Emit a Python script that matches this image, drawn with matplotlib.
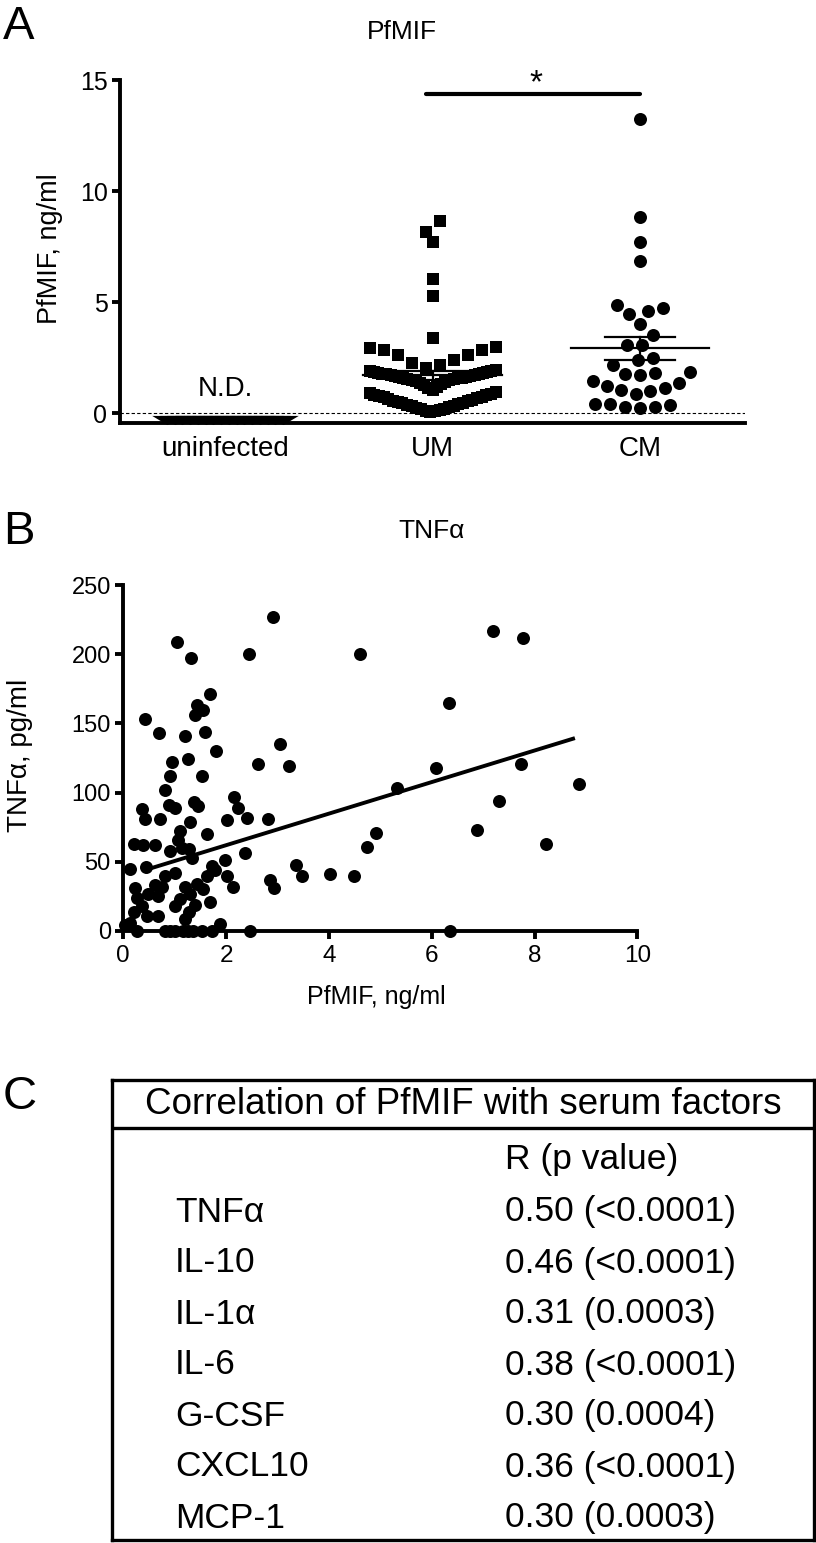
import numpy as np
import matplotlib
matplotlib.use("Agg")
import matplotlib.pyplot as plt

# ---------------- data ----------------
groups = ["uninfected", "UM", "CM"]
uninfected_vals = [-0.3, -0.3, -0.3, -0.3, -0.3, -0.3, -0.3, -0.3,
                   -0.3, -0.3, -0.3, -0.3, -0.3, -0.3, -0.3, -0.3]  # N.D.
um_vals = [8.66, 8.18, 7.73, 6.05, 5.29, 3.38,
           2.98, 2.93, 2.85, 2.82, 2.63, 2.63, 2.37, 2.25, 2.18, 2.03,
           1.46, 1.48, 1.50, 1.52, 1.54, 1.56, 1.58, 1.60, 1.62, 1.64, 1.66, 1.68,
           1.70, 1.72, 1.74, 1.76, 1.78, 1.80, 1.82, 1.84, 1.86, 1.88, 1.90, 1.92,
           1.05, 1.12, 1.18, 1.25, 1.30, 1.36, 1.40,
           0.05, 0.08, 0.11, 0.14, 0.17, 0.20, 0.24, 0.27, 0.30, 0.33, 0.36, 0.40,
           0.43, 0.46, 0.50, 0.53, 0.56, 0.60, 0.63, 0.66, 0.70, 0.73, 0.76, 0.80,
           0.83, 0.86, 0.90, 0.93]
cm_vals = [13.24, 8.83, 7.73, 6.86, 4.73, 4.46, 4.58, 4.88, 4.01, 3.51, 3.08, 3.05,
           2.48, 2.18, 2.40, 1.85, 1.76, 1.73, 1.80, 1.43, 1.20, 1.13, 1.35, 1.05,
           0.86, 1.01, 0.42, 0.26, 0.21, 0.26, 0.35, 0.42]
sig_level = 14.4

pfmif_x = [2.91, 1.05, 1.32, 2.45, 4.60, 7.19, 7.77,
           1.69, 1.43, 1.56, 1.40, 0.42, 6.33,
           0.70, 1.20, 1.58, 3.05, 1.80,
           0.95, 1.25, 2.62, 3.22, 6.09, 7.74,
           1.53, 0.91, 0.81, 5.32, 8.87, 7.30,
           0.88, 1.01, 1.38, 1.46, 2.16, 2.24, 0.36,
           0.42, 0.71, 1.30, 2.01, 2.40, 2.82,
           1.10, 1.62, 4.92, 6.88, 4.74, 8.23,
           0.21, 0.39, 0.62, 1.07, 1.28, 1.14, 0.91, 1.33, 2.37,
           1.98, 3.36, 3.47, 4.03, 4.49,
           0.13, 0.45, 1.72, 1.79, 2.01, 1.62, 0.81, 1.01,
           2.86, 2.94, 2.14, 1.43, 0.62, 0.75, 0.23, 1.20,
           0.26, 0.49, 0.68, 1.30, 1.10, 1.01, 1.56, 1.69, 1.40, 1.27,
           0.36, 0.20, 0.46, 0.68, 1.20, 0.13, 0.03, 1.88,
           0.26, 0.81, 1.01, 1.17, 1.36, 1.53, 1.72, 2.47, 6.36, 0.90, 1.25]
tnf_y = [227, 209, 197, 200, 200, 217, 212,
         171, 163, 160, 156, 153, 165,
         143, 141, 144, 135, 130,
         122, 124, 121, 119, 118, 121,
         112, 112, 102, 103, 106, 94,
         91, 89, 93, 90, 97, 89, 88,
         81, 81, 79, 80, 82, 81,
         72, 70, 71, 73, 61, 63,
         63, 62, 62, 66, 59, 60, 58, 53, 56,
         51, 48, 40, 41, 40,
         45, 46, 47, 44, 40, 40, 40, 42,
         37, 31, 32, 34, 33, 32, 31, 32,
         24, 27, 25, 27, 23, 18, 30, 21, 19, 14,
         18, 14, 11, 11, 9, 6, 4, 5,
         0, 0, 0, 0, 0, 0, 0, 0, 0, 0, 0]
fit_slope = 11.4
fit_intercept = 39.2
fit_x_range = [0.5, 8.75]

table_title = "Correlation of PfMIF with serum factors"
table_header = "R (p value)"
factors = ["TNF\u03b1", "IL-10", "IL-1\u03b1", "IL-6", "G-CSF", "CXCL10", "MCP-1"]
r_values = ["0.50 (<0.0001)", "0.46 (<0.0001)", "0.31 (0.0003)", "0.38 (<0.0001)",
            "0.30 (0.0004)", "0.36 (<0.0001)", "0.30 (0.0003)"]

# ---------------- style ----------------
W, H = 816, 1543
FONT = ['Liberation Sans', 'DejaVu Sans']
plt.rcParams['font.family'] = FONT
LW = 2.8

fig = plt.figure(figsize=(W / 100, H / 100), dpi=100)


def fx(px):
    return px / W


def fy(py):
    return 1 - py / H


def to_data_x(ax, pos, offs_px, vals):
    xc = ax.transData.transform((pos, 0))[0]
    ys = ax.transData.transform(np.column_stack([np.full(len(vals), pos), vals]))[:, 1]
    return ax.transData.inverted().transform(np.column_stack([xc + offs_px, ys]))[:, 0]


def binned_swarm(ax, pos, vals, bin_w, spacing_px, max_half_px):
    """GraphPad-like column scatter: rows of points, lowest values in the centre."""
    vals = np.asarray(vals, float)
    bins = np.floor(vals / bin_w)
    offs = np.zeros(len(vals))
    for b in np.unique(bins):
        idx = np.where(bins == b)[0]
        idx = idx[np.argsort(vals[idx], kind="stable")]
        n = len(idx)
        sp = spacing_px
        if n > 1 and (n - 1) * sp > 2 * max_half_px:
            sp = 2 * max_half_px / (n - 1)
        if n % 2:
            slots = [0]
            k = 1
            while len(slots) < n:
                slots += [-k, k]
                k += 1
        else:
            slots = []
            k = 0.5
            while len(slots) < n:
                slots += [-k, k]
                k += 1
        slots = np.array(slots[:n])
        offs[idx] = slots * sp
    return to_data_x(ax, pos, offs, vals)


def beeswarm(ax, pos, vals, size_px):
    vals = np.asarray(vals, float)
    ys = ax.transData.transform(np.column_stack([np.full(len(vals), pos), vals]))[:, 1]
    order = np.argsort(ys, kind="stable")
    offs = np.zeros(len(vals))
    placed = []
    flip = 1
    for i in order:
        y = ys[i]
        near = [(px, py) for px, py in placed if abs(py - y) < size_px]
        cands = [0.0]
        for px, py in near:
            dy = y - py
            dx = np.sqrt(max(size_px ** 2 - dy ** 2, 0))
            cands += [px + dx, px - dx]

        def ok(c):
            for px, py in near:
                if (c - px) ** 2 + (y - py) ** 2 < size_px ** 2 - 1e-6:
                    return False
            return True

        valid = [c for c in cands if ok(c)]
        best = min(valid, key=lambda c: (round(abs(c), 4), flip * c))
        flip = -flip
        offs[i] = best
        placed.append((best, y))
    return to_data_x(ax, pos, offs, vals)


def style_axes(ax):
    for s in ["top", "right"]:
        ax.spines[s].set_visible(False)
    for s in ["left", "bottom"]:
        ax.spines[s].set_linewidth(LW)
    ax.tick_params(width=LW, length=6, color="black")


# ---------------- Panel A ----------------
axA = fig.add_axes([fx(120), fy(423), fx(745 - 120), (423 - 80.3) / H])
axA.set_xlim(-0.506, 2.506)
axA.set_ylim(-0.45, 15)
style_axes(axA)
axA.set_yticks([0, 5, 10, 15])
axA.set_yticklabels(["0", "5", "10", "15"], fontsize=18)
axA.tick_params(axis="y", pad=3)
axA.set_xticks([0, 1, 2])
axA.set_xticklabels(groups, fontsize=20)
axA.tick_params(axis="x", length=0, pad=9)
axA.axhline(0, color="black", lw=0.8, ls=(0, (3, 2)), zorder=1)

# uninfected: flattened triangles in a band
tri = [(-1, 0.3), (1, 0.3), (0, -0.3)]
ux = binned_swarm(axA, 0, uninfected_vals, 1.0, 14.0, 58.0)
axA.scatter(ux, uninfected_vals, marker=tri, s=22 ** 2, color="black",
            linewidths=0, clip_on=False, zorder=3)
axA.text(0, 1.1, "N.D.", ha="center", va="center", fontsize=20)

um_x = binned_swarm(axA, 1, um_vals, 1.0, 14.0, 63.0)
axA.scatter(um_x, um_vals, marker="s", s=(12 * 0.72) ** 2, color="black",
            linewidths=0, clip_on=False, zorder=3)
cm_x = beeswarm(axA, 2, cm_vals, 15.0)
axA.scatter(cm_x, cm_vals, marker="o", s=(13 * 0.72) ** 2, color="black",
            linewidths=0, clip_on=False, zorder=3)

for pos, vals in [(1, um_vals), (2, cm_vals)]:
    v = np.asarray(vals)
    m = v.mean()
    se = v.std(ddof=1) / np.sqrt(len(v))
    axA.plot([pos - 0.333, pos + 0.333], [m, m], color="black", lw=1.6, zorder=4)
    axA.plot([pos - 0.17, pos + 0.17], [m + se, m + se], color="black", lw=1.6, zorder=4)
    axA.plot([pos - 0.17, pos + 0.17], [m - se, m - se], color="black", lw=1.6, zorder=4)
    axA.plot([pos, pos], [m - se, m + se], color="black", lw=1.6, zorder=4)

axA.plot([0.97, 2.0], [sig_level, sig_level], color="black", lw=3, clip_on=False,
         solid_capstyle="round")
axA.text(1.5, sig_level + 0.45, "*", ha="center", va="center", fontsize=24)

fig.text(fx(3), fy(27), "A", ha="left", va="center", fontsize=34)
fig.text(fx(402), fy(32), "PfMIF", ha="center", va="center", fontsize=19)
fig.text(fx(50), fy(249), "PfMIF, ng/ml", ha="center", va="center", rotation=90,
         fontsize=19.5)

# ---------------- Panel B ----------------
axB = fig.add_axes([fx(123.3), fy(931), fx(637.3 - 123.3), (931 - 585) / H])
axB.set_xlim(0, 10)
axB.set_ylim(0, 250)
style_axes(axB)
axB.set_xticks([0, 2, 4, 6, 8, 10])
axB.set_xticklabels(["0", "2", "4", "6", "8", "10"], fontsize=17.5)
axB.set_yticks([0, 50, 100, 150, 200, 250])
axB.set_yticklabels(["0", "50", "100", "150", "200", "250"], fontsize=17)
axB.tick_params(axis="y", pad=3)
axB.tick_params(axis="x", pad=4)
axB.scatter(pfmif_x, tnf_y, s=(13 * 0.72) ** 2, color="black", linewidths=0,
            clip_on=False, zorder=3)
fx_line = np.array(fit_x_range)
axB.plot(fx_line, fit_intercept + fit_slope * fx_line, color="black", lw=LW, zorder=4)

fig.text(fx(3), fy(532), "B", ha="left", va="center", fontsize=34)
fig.text(fx(432), fy(531), "TNF\u03b1", ha="center", va="center", fontsize=19)
fig.text(fx(20), fy(755), "TNF\u03b1, pg/ml", ha="center", va="center", rotation=90,
         fontsize=20)
fig.text(fx(376), fy(997), "PfMIF, ng/ml", ha="center", va="center", fontsize=18)

# ---------------- Panel C (table) ----------------
axC = fig.add_axes([fx(112), fy(1540), fx(814 - 112), (1540 - 1080) / H])
axC.set_xlim(112, 814)
axC.set_ylim(1540, 1080)
axC.set_xticks([])
axC.set_yticks([])
for s in axC.spines.values():
    s.set_linewidth(2.4)
axC.axhline(1128, color="black", lw=2.4)
axC.text(463, 1105, table_title, ha="center", va="center", fontsize=26.5)
axC.text(505, 1160, table_header, ha="left", va="center", fontsize=25.5)
for i, (f, r) in enumerate(zip(factors, r_values)):
    yy = 1212 + 51 * i
    axC.text(175, yy, f, ha="left", va="center", fontsize=25.5)
    axC.text(505, yy, r, ha="left", va="center", fontsize=25.5)

fig.text(fx(3), fy(1097), "C", ha="left", va="center", fontsize=34)

fig.savefig("out.png", dpi=100)
